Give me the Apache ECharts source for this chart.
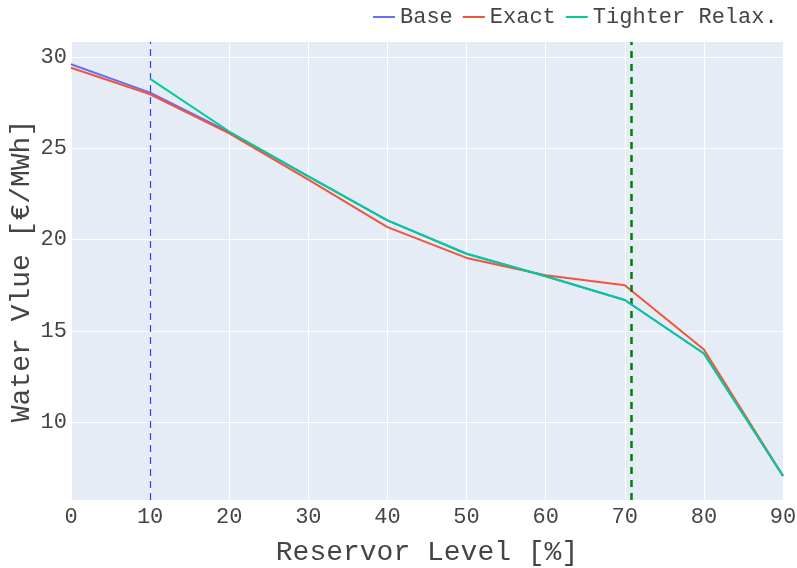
<!DOCTYPE html>
<html>
<head>
<meta charset="utf-8">
<script src="https://cdn.jsdelivr.net/npm/echarts@6/dist/echarts.min.js"></script>
<style>html,body{margin:0;padding:0;background:#fff}#c{width:797px;height:568px}</style>
</head>
<body>
<div id="c"></div>
<script>
const levels = [0, 10, 20, 30, 40, 50, 60, 70, 80, 90];
const baseVals = [29.60, 28.05, 25.88, 23.47, 21.06, 19.23, 18.00, 16.70, 13.77, 7.06];
const exactVals = [29.41, 27.96, 25.82, 23.29, 20.69, 19.00, 18.05, 17.50, 13.99, 7.08];
const tighterVals = [null, 28.80, 25.92, 23.47, 21.06, 19.23, 18.00, 16.70, 13.77, 7.06];
const yTicks = [10, 15, 20, 25, 30];
const vlineBlue = 10;
const vlineGreen = 70.78;

const FONT = '"Liberation Mono", "Courier New", monospace';
const chart = echarts.init(document.getElementById('c'), null, {renderer: 'canvas'});
const pair = (vals) => levels.map((x, i) => [x, vals[i]]).filter(p => p[1] !== null);

chart.setOption({
  animation: false,
  backgroundColor: '#fff',
  textStyle: {fontFamily: FONT},
  grid: {left: 71, right: 14, top: 42, bottom: 68, show: true, backgroundColor: '#E5ECF6', borderWidth: 0,
         containLabel: false, outerBoundsMode: 'none'},
  legend: {
    left: 368, top: 1, itemWidth: 22, itemHeight: 2, itemGap: 10, icon: 'rect',
    textStyle: {fontFamily: FONT, fontSize: 22, color: '#444', padding: [0, 0, 0, 0]},
    data: ['Base', 'Exact', 'Tighter Relax.']
  },
  xAxis: {
    type: 'value', min: 0, max: 90, interval: 10,
    name: 'Reservor Level [%]', nameLocation: 'middle', nameGap: 39, nameMoveOverlap: false,
    nameTextStyle: {fontFamily: FONT, fontSize: 28, color: '#444'},
    axisLine: {show: false}, axisTick: {show: false},
    axisLabel: {fontFamily: FONT, fontSize: 22, color: '#444', margin: 6},
    splitLine: {show: true, lineStyle: {color: '#fff', width: 1}}
  },
  yAxis: {
    type: 'value', min: 5.75, max: 30.82,
    name: 'Water Vlue [€/MWh]', nameLocation: 'middle', nameGap: 35, nameMoveOverlap: false,
    nameTextStyle: {fontFamily: FONT, fontSize: 28, color: '#444'},
    axisLine: {show: false},
    axisTick: {show: false, customValues: yTicks},
    axisLabel: {fontFamily: FONT, fontSize: 22, color: '#444', margin: 4, customValues: yTicks},
    splitLine: {show: false}
  },
  series: [
    {
      name: 'Base', type: 'line', data: pair(baseVals), showSymbol: false, symbol: 'none',
      color: '#636EFA', lineStyle: {width: 2, color: '#636EFA'}, z: 3,
      markLine: {
        silent: true, symbol: ['none', 'none'], label: {show: false},
        data: yTicks.map(v => ({yAxis: v, lineStyle: {color: '#fff', width: 1, type: 'solid'}})),
        z: 1
      }
    },
    {
      name: 'Exact', type: 'line', data: pair(exactVals), showSymbol: false, symbol: 'none',
      color: '#EF553B', lineStyle: {width: 2, color: '#EF553B'}, z: 4
    },
    {
      name: 'Tighter Relax.', type: 'line', data: pair(tighterVals), showSymbol: false, symbol: 'none',
      color: '#00CC96', lineStyle: {width: 2, color: '#00CC96'}, z: 5,
      markLine: {
        silent: true, symbol: ['none', 'none'], label: {show: false},
        data: [
          {xAxis: vlineBlue, lineStyle: {color: '#3A3AFF', width: 1.2, type: [7, 5], opacity: 1}},
          {xAxis: vlineGreen, lineStyle: {color: '#008000', width: 2.5, type: [7, 6], opacity: 1}}
        ]
      }
    }
  ]
});
</script>
</body>
</html>
